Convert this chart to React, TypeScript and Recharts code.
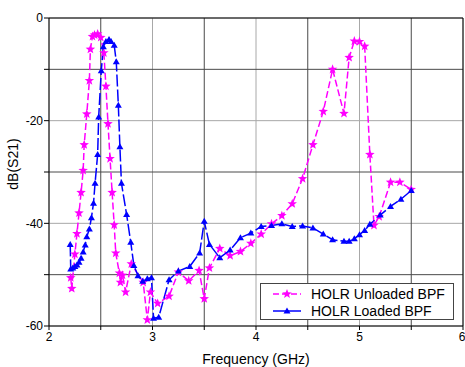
import { LineChart, Line, XAxis, YAxis, CartesianGrid, ReferenceLine } from "recharts";

// HOLR Unloaded BPF (frequency in GHz, S21 in dB)
const unloadedFreq = [
  2.21, 2.22, 2.25, 2.27, 2.29, 2.31, 2.33, 2.34, 2.365, 2.39, 2.4, 2.42, 2.44, 2.47, 2.5,
  2.53, 2.55, 2.57, 2.59, 2.61, 2.63, 2.645, 2.68, 2.69, 2.71, 2.74, 2.795, 2.91, 2.95, 2.98,
  3.05, 3.16, 3.25, 3.35, 3.45, 3.5, 3.55, 3.65, 3.75, 3.85, 3.95, 4.05, 4.15, 4.25, 4.35,
  4.45, 4.55, 4.65, 4.74, 4.85, 4.9, 4.95, 5.0, 5.05, 5.1, 5.14, 5.19, 5.3, 5.39, 5.5,
];
const unloadedDb = [
  -50.6, -52.7, -46.0, -42.0, -38.0, -34.0, -29.7, -24.7, -18.7, -12.2, -6.1, -3.6, -3.3, -3.1, -3.8,
  -6.8, -13.3, -20.6, -27.4, -34.0, -40.3, -45.8, -49.7, -51.5, -50.1, -53.4, -47.9, -51.5, -58.8, -53.4,
  -55.6, -54.2, -49.5, -51.2, -49.2, -54.7, -48.7, -44.9, -46.3, -45.5, -43.9, -42.1, -40.1, -38.5, -36.2,
  -31.3, -24.7, -18.2, -10.0, -18.6, -7.7, -4.5, -4.6, -5.5, -26.6, -40.4, -38.7, -32.0, -32.0, -33.4,
];

// HOLR Loaded BPF
const loadedFreq = [
  2.205, 2.21, 2.23, 2.25, 2.27, 2.29, 2.31, 2.33, 2.35, 2.365, 2.39, 2.41, 2.43, 2.445, 2.47,
  2.48, 2.505, 2.525, 2.55, 2.58, 2.6, 2.63, 2.65, 2.67, 2.685, 2.7, 2.75, 2.79, 2.82, 2.86,
  2.905, 2.95, 2.99, 3.01, 3.06, 3.16, 3.25, 3.36, 3.455, 3.5, 3.55, 3.65, 3.75, 3.85, 3.95,
  4.05, 4.15, 4.25, 4.35, 4.45, 4.55, 4.65, 4.74, 4.85, 4.9, 4.95, 5.0, 5.05, 5.1, 5.2,
  5.3, 5.4, 5.5,
];
const loadedDb = [
  -44.1, -48.9, -48.7, -48.4, -48.1, -47.6, -46.8, -45.6, -44.2, -42.6, -41.1, -38.9, -36.1, -32.2, -26.6,
  -19.3, -10.3, -5.6, -4.6, -4.2, -4.6, -5.3, -8.5, -17.0, -25.1, -32.2, -38.3, -43.7, -48.2, -50.2,
  -51.3, -50.8, -50.6, -58.5, -58.3, -51.0, -49.3, -48.4, -45.8, -39.6, -44.1, -46.7, -45.2, -42.8, -41.9,
  -40.6, -40.4, -40.1, -40.6, -40.5, -40.9, -42.1, -43.2, -43.5, -43.5, -43.0, -42.2, -41.4, -40.2, -38.4,
  -36.7, -35.3, -33.6,
];

const xTicks = [2, 2.5, 3, 3.5, 4, 4.5, 5, 5.5, 6];
const yTicks = [-60, -50, -40, -30, -20, -10, 0];
const xMajor = [2, 3, 4, 5, 6];
const xMinor = [2.5, 3.5, 4.5, 5.5];
const yMajor = [-60, -40, -20, 0];
const yMinor = [-50, -30, -10];

const unloaded = unloadedFreq.map((f, i) => ({ f, db: unloadedDb[i] }));
const loaded = loadedFreq.map((f, i) => ({ f, db: loadedDb[i] }));

const MAGENTA = "#ff00ff";
const BLUE = "#0000ff";
const FONT = "'Liberation Sans', Arial, sans-serif";

function starPoints(cx: number, cy: number, ro: number, ri: number) {
  const pts: string[] = [];
  for (let i = 0; i < 10; i++) {
    const r = i % 2 === 0 ? ro : ri;
    const a = -Math.PI / 2 + (i * Math.PI) / 5;
    pts.push(`${cx + r * Math.cos(a)},${cy + r * Math.sin(a)}`);
  }
  return pts.join(" ");
}

const StarDot = (props: any) => {
  const { cx, cy, index } = props;
  if (cx == null || cy == null) return <g key={index} />;
  return <polygon key={index} points={starPoints(cx, cy, 5, 2.1)} fill={MAGENTA} />;
};

const TriDot = (props: any) => {
  const { cx, cy, index } = props;
  if (cx == null || cy == null) return <g key={index} />;
  return (
    <polygon key={index} points={`${cx},${cy - 3.5} ${cx + 3.5},${cy + 2.5} ${cx - 3.5},${cy + 2.5}`} fill={BLUE} />
  );
};

const YLabel = () => (
  <text
    x={18}
    y={164}
    transform="rotate(-90 18 164)"
    textAnchor="middle"
    fill="#000"
    fontSize={14}
    fontFamily={FONT}
  >
    dB(S21)
  </text>
);

const LegendBox = () => (
  <div
    style={{
      position: "absolute",
      left: 260,
      top: 283,
      width: 194,
      height: 37,
      border: "1px solid #444",
      background: "#fff",
      fontFamily: FONT,
      fontSize: 14,
      lineHeight: "16px",
      color: "#000",
      boxSizing: "border-box",
      paddingTop: 1,
    }}
  >
    <div style={{ display: "flex", alignItems: "center", height: 17 }}>
      <svg width={50} height={14}>
        <line x1={12} y1={7} x2={40} y2={7} stroke={MAGENTA} strokeWidth={1.5} strokeDasharray="6 3" />
        <polygon points={starPoints(26, 7, 5, 2.1)} fill={MAGENTA} />
      </svg>
      <span>HOLR Unloaded BPF</span>
    </div>
    <div style={{ display: "flex", alignItems: "center", height: 18 }}>
      <svg width={50} height={14}>
        <line x1={12} y1={7} x2={40} y2={7} stroke={BLUE} strokeWidth={1.5} />
        <polygon points="26,3.5 29.5,9.5 22.5,9.5" fill={BLUE} />
      </svg>
      <span>HOLR Loaded BPF</span>
    </div>
  </div>
);

export default function App() {
  return (
    <div style={{ position: "absolute", left: 0, top: 0, width: 465, height: 367, background: "#fff" }}>
      <LineChart width={465} height={367} margin={{ top: 18, right: 2, left: 0, bottom: 0 }}>
        <CartesianGrid stroke="#a8a8a8" horizontalValues={yMajor} verticalValues={xMajor} />
        <CartesianGrid stroke="#4a4a4a" horizontalValues={yMinor} verticalValues={xMinor} />
        <XAxis
          type="number"
          dataKey="f"
          domain={[2, 6]}
          ticks={xTicks}
          allowDuplicatedCategory={false}
          height={41}
          stroke="#000"
          tickSize={4}
          tickMargin={2}
          tick={{ fill: "#000", fontSize: 12, fontFamily: FONT }}
          tickFormatter={(v: number) => (Number.isInteger(v) ? String(v) : "")}
          label={{ value: "Frequency (GHz)", position: "insideBottom", offset: 3, fill: "#000", fontSize: 14, fontFamily: FONT }}
        />
        <YAxis
          type="number"
          domain={[-60, 0]}
          ticks={yTicks}
          width={49}
          stroke="#000"
          tickSize={5}
          tickMargin={1}
          tick={{ fill: "#000", fontSize: 12, fontFamily: FONT }}
          tickFormatter={(v: number) => (v % 20 === 0 ? String(v) : "")}
          label={{ content: YLabel }}
        />
        <ReferenceLine y={0} stroke="#000" />
        <ReferenceLine x={6} stroke="#000" />
        <Line
          data={unloaded}
          dataKey="db"
          name="HOLR Unloaded BPF"
          stroke={MAGENTA}
          strokeWidth={1.5}
          strokeDasharray="7 3"
          dot={StarDot}
          activeDot={false}
          isAnimationActive={false}
        />
        <Line
          data={loaded}
          dataKey="db"
          name="HOLR Loaded BPF"
          stroke={BLUE}
          strokeWidth={1.5}
          strokeDasharray="12 3"
          dot={TriDot}
          activeDot={false}
          isAnimationActive={false}
        />
      </LineChart>
      <LegendBox />
    </div>
  );
}
